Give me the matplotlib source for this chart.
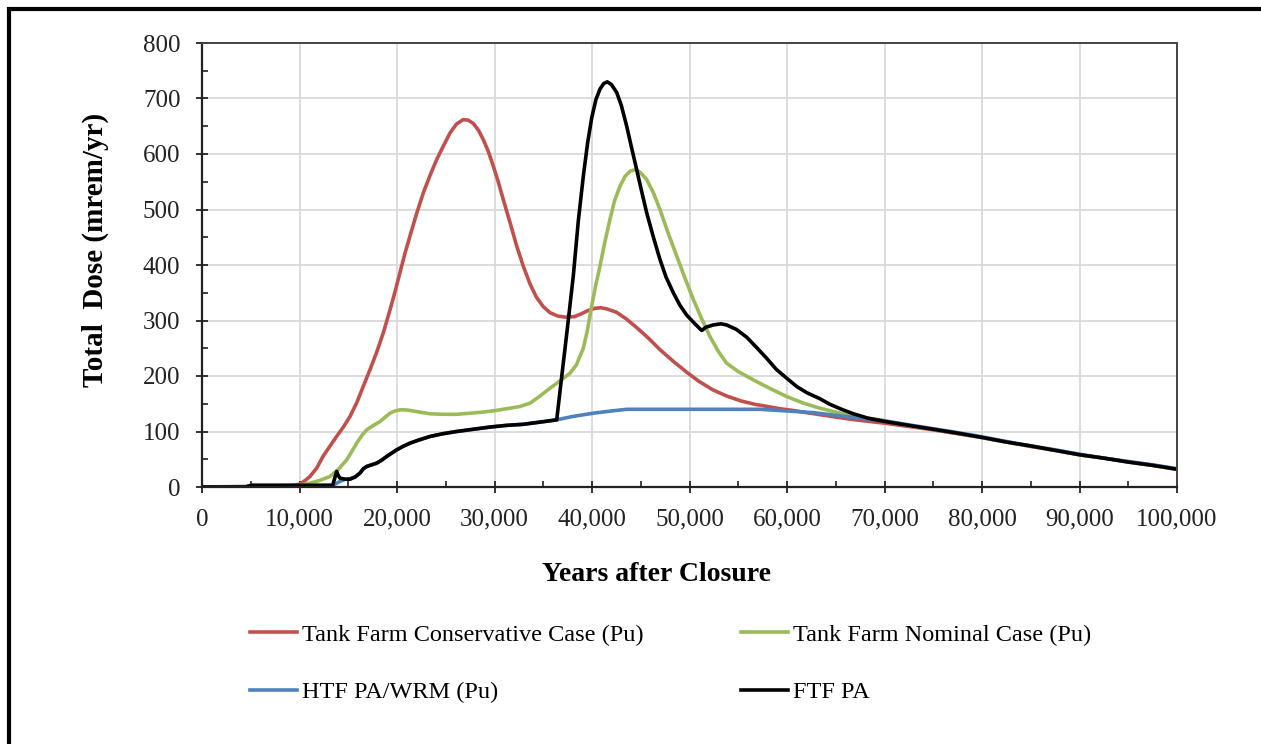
import matplotlib

matplotlib.use("Agg")
import matplotlib.pyplot as plt
from matplotlib.patches import Rectangle
from matplotlib.ticker import FuncFormatter, MultipleLocator

plt.rcParams["font.family"] = ["Liberation Serif", "DejaVu Serif"]

# Years after closure / total dose (mrem/yr)
cons_x = [0, 5000, 9000, 10000, 10600, 11080, 11800, 12400, 13100, 13800, 14500,
          15180, 15900, 16530, 17200, 17900, 18600, 19280, 19800, 20300, 20800,
          21330, 22000, 22700, 23400, 24070, 24800, 25440, 26100, 26800, 27300,
          27830, 28350, 28850, 29380, 29880, 30400, 30900, 31600, 32280, 32950,
          33640, 34300, 35000, 35700, 36500, 37300, 38200, 38900, 39600, 40300,
          40900, 41500, 42500, 43500, 44600, 45800, 47000, 48300, 49700, 51000,
          52400, 53800, 55300, 56700, 58000, 59300, 60600, 62000, 63500, 65000,
          67000, 70000, 72500, 75000, 77500, 80000, 82500, 85000, 87500, 90000,
          92500, 95000, 97500, 100000]
cons_y = [0, 1, 2, 5, 12, 19, 35, 55, 73, 91, 108,
          127, 153, 181, 210, 242, 278, 319, 352, 386, 420,
          452, 492, 530, 562, 590, 616, 638, 654, 662, 661,
          655, 643, 626, 604, 578, 549, 518, 476, 434, 398,
          366, 342, 325, 314, 308, 306, 307, 312, 318, 322,
          323, 321, 315, 303, 287, 268, 247, 227, 207, 190,
          175, 164, 155, 149, 145, 141, 138, 134, 130, 126,
          121, 115, 109, 103, 96, 89, 81, 73, 66, 58,
          52, 45, 39, 32]

nom_x = [0, 9000, 10000, 11080, 12100, 13130, 14000, 14840, 15400, 15870, 16400,
         16890, 17500, 18260, 18800, 19280, 19800, 20310, 20800, 21330, 22300,
         23380, 24700, 26120, 27500, 28850, 30200, 31590, 32600, 33640, 34600,
         35690, 36700, 37740, 38400, 39110, 39500, 39900, 40400, 40820, 41300,
         41840, 42300, 42870, 43400, 43900, 44500, 45000, 45610, 46300, 46970,
         47800, 48690, 49500, 50390, 51200, 52100, 53000, 53810, 55000, 56550,
         58200, 59970, 61700, 63380, 64750, 66500, 69540, 72500, 75000, 77500,
         80000, 82500, 85000, 87500, 90000, 92500, 95000, 97500, 100000]
nom_y = [0, 1, 3, 7, 12, 19, 32, 49, 65, 79, 93,
         103, 110, 118, 126, 133, 137, 139, 139, 138, 135,
         132, 131, 131, 133, 135, 138, 142, 145, 151, 163,
         178, 191, 205, 220, 250, 280, 320, 365, 398, 440,
         482, 515, 542, 560, 569, 572, 566, 554, 530, 500,
         458, 416, 378, 338, 305, 271, 243, 223, 208, 193,
         178, 163, 151, 142, 136, 129, 121, 111, 104, 97,
         89, 81, 74, 66, 58, 52, 45, 39, 32]

htf_x = [0, 4500, 5000, 13400, 14150, 14700, 15180, 15700, 16200, 16550, 16890,
         17400, 17920, 18400, 18940, 19450, 19970, 20600, 21330, 22300, 23380,
         24700, 26120, 27800, 29540, 31200, 32960, 34700, 36380, 38000, 40140,
         42000, 43560, 50000, 57200, 60000, 62700, 66000, 70050, 72500, 75000,
         77500, 80130, 82500, 85000, 87500, 90050, 92500, 95000, 97500, 100000]
htf_y = [0, 0, 3, 3, 10, 14, 15, 18, 25, 33, 37,
         40, 43, 48, 55, 61, 67, 73, 79, 85, 91,
         96, 100, 104, 108, 111, 113, 117, 121, 127, 133,
         137, 140, 140, 140, 137, 134, 127, 119, 112, 105,
         98, 90, 82, 74, 67, 59, 52, 46, 40, 33]

ftf_x = [0, 4500, 5000, 13400, 13600, 13810, 14000, 14150, 14700, 15180, 15700,
         16200, 16550, 16890, 17400, 17920, 18400, 18940, 19450, 19970, 20600,
         21330, 22300, 23380, 24700, 26120, 27800, 29540, 31200, 32960, 34700,
         36380, 36900, 37500, 38080, 38600, 39110, 39550, 39970, 40400, 40820,
         41200, 41570, 42000, 42530, 43000, 43560, 44050, 44580, 45100, 45610,
         46300, 46970, 47600, 48340, 49000, 49700, 50500, 51250, 51700, 52440,
         53200, 53810, 54800, 55860, 56900, 57910, 58900, 59970, 61000, 62020,
         63380, 64400, 65600, 66800, 68300, 70050, 72500, 75000, 77500, 80130,
         82500, 85000, 87500, 90050, 92500, 95000, 97500, 100000]
ftf_y = [0, 0, 3, 3, 15, 28, 20, 16, 14, 14, 18,
         25, 33, 37, 40, 43, 48, 55, 61, 67, 73,
         79, 85, 91, 96, 100, 104, 108, 111, 113, 117,
         121, 200, 290, 380, 480, 560, 620, 665, 698, 717,
         727, 730, 725, 711, 688, 650, 612, 572, 532, 494,
         450, 410, 378, 350, 328, 310, 295, 282, 288, 292,
         294, 292, 284, 270, 251, 232, 212, 196, 181, 170,
         159, 149, 140, 132, 124, 118, 111, 104, 97, 89,
         81, 74, 66, 58, 52, 45, 39, 32]

labels = ["Tank Farm Conservative Case (Pu)", "Tank Farm Nominal Case (Pu)",
          "HTF PA/WRM (Pu)", "FTF PA"]
colors = ["#C0504D", "#9BBB59", "#4F81BD", "#000000"]

fig = plt.figure(figsize=(12.61, 7.44), dpi=100)
ax = fig.add_axes([202 / 1261, 1 - 487 / 744, 975 / 1261, 444 / 744])

lw = 2.6
l1, = ax.plot(cons_x, cons_y, color=colors[0], lw=lw, label=labels[0])
l2, = ax.plot(nom_x, nom_y, color=colors[1], lw=lw, label=labels[1])
l3, = ax.plot(htf_x, htf_y, color=colors[2], lw=lw, label=labels[2])
l4, = ax.plot(ftf_x, ftf_y, color=colors[3], lw=lw, label=labels[3])

ax.set_xlim(0, 100000)
ax.set_ylim(0, 800)
ax.xaxis.set_major_locator(MultipleLocator(10000))
ax.xaxis.set_minor_locator(MultipleLocator(5000))
ax.yaxis.set_major_locator(MultipleLocator(100))
ax.yaxis.set_minor_locator(MultipleLocator(50))
ax.xaxis.set_major_formatter(FuncFormatter(lambda v, p: f"{int(v):,}"))

ax.grid(True, which="major", color="#D9D9D9", lw=1.3)
ax.set_axisbelow(True)
for side in ["left", "bottom"]:
    ax.spines[side].set_linewidth(1.6)
    ax.spines[side].set_color("#222222")
for side in ["top", "right"]:
    ax.spines[side].set_linewidth(1.4)
    ax.spines[side].set_color("#444444")

ax.tick_params(which="major", direction="inout", length=9, width=1.3,
               labelsize=18, color="#222222", labelcolor="#222222")
ax.tick_params(which="minor", direction="in", length=4, width=1.2, color="#222222")
ax.tick_params(axis="x", which="major", pad=11)
ax.tick_params(axis="y", which="major", pad=11)

ax.set_xlabel("Years after Closure", fontsize=20, fontweight="bold")
ax.xaxis.set_label_coords(455 / 975, -75 / 444)
ax.set_ylabel("Total  Dose (mrem/yr)", fontsize=21, fontweight="bold")
ax.yaxis.set_label_coords(-93 / 975, 237 / 444)

# row-wise legend order: red, green / blue, black
fig.legend(handles=[l1, l3, l2, l4], loc="upper left", ncol=2,
           bbox_to_anchor=(228 / 1261, 1 - 602 / 744), frameon=False,
           fontsize=17.5, handlelength=1.95, handletextpad=0.2,
           columnspacing=4.0, labelspacing=1.45)

# outer frame, only its left and top edges fall inside the picture
fig.add_artist(Rectangle((9 / 1261, -0.5), 1.5, 1.5 - 9 / 744,
                         transform=fig.transFigure, fill=False,
                         edgecolor="black", lw=3, clip_on=False))

fig.savefig("out.png", dpi=100)
plt.close(fig)
